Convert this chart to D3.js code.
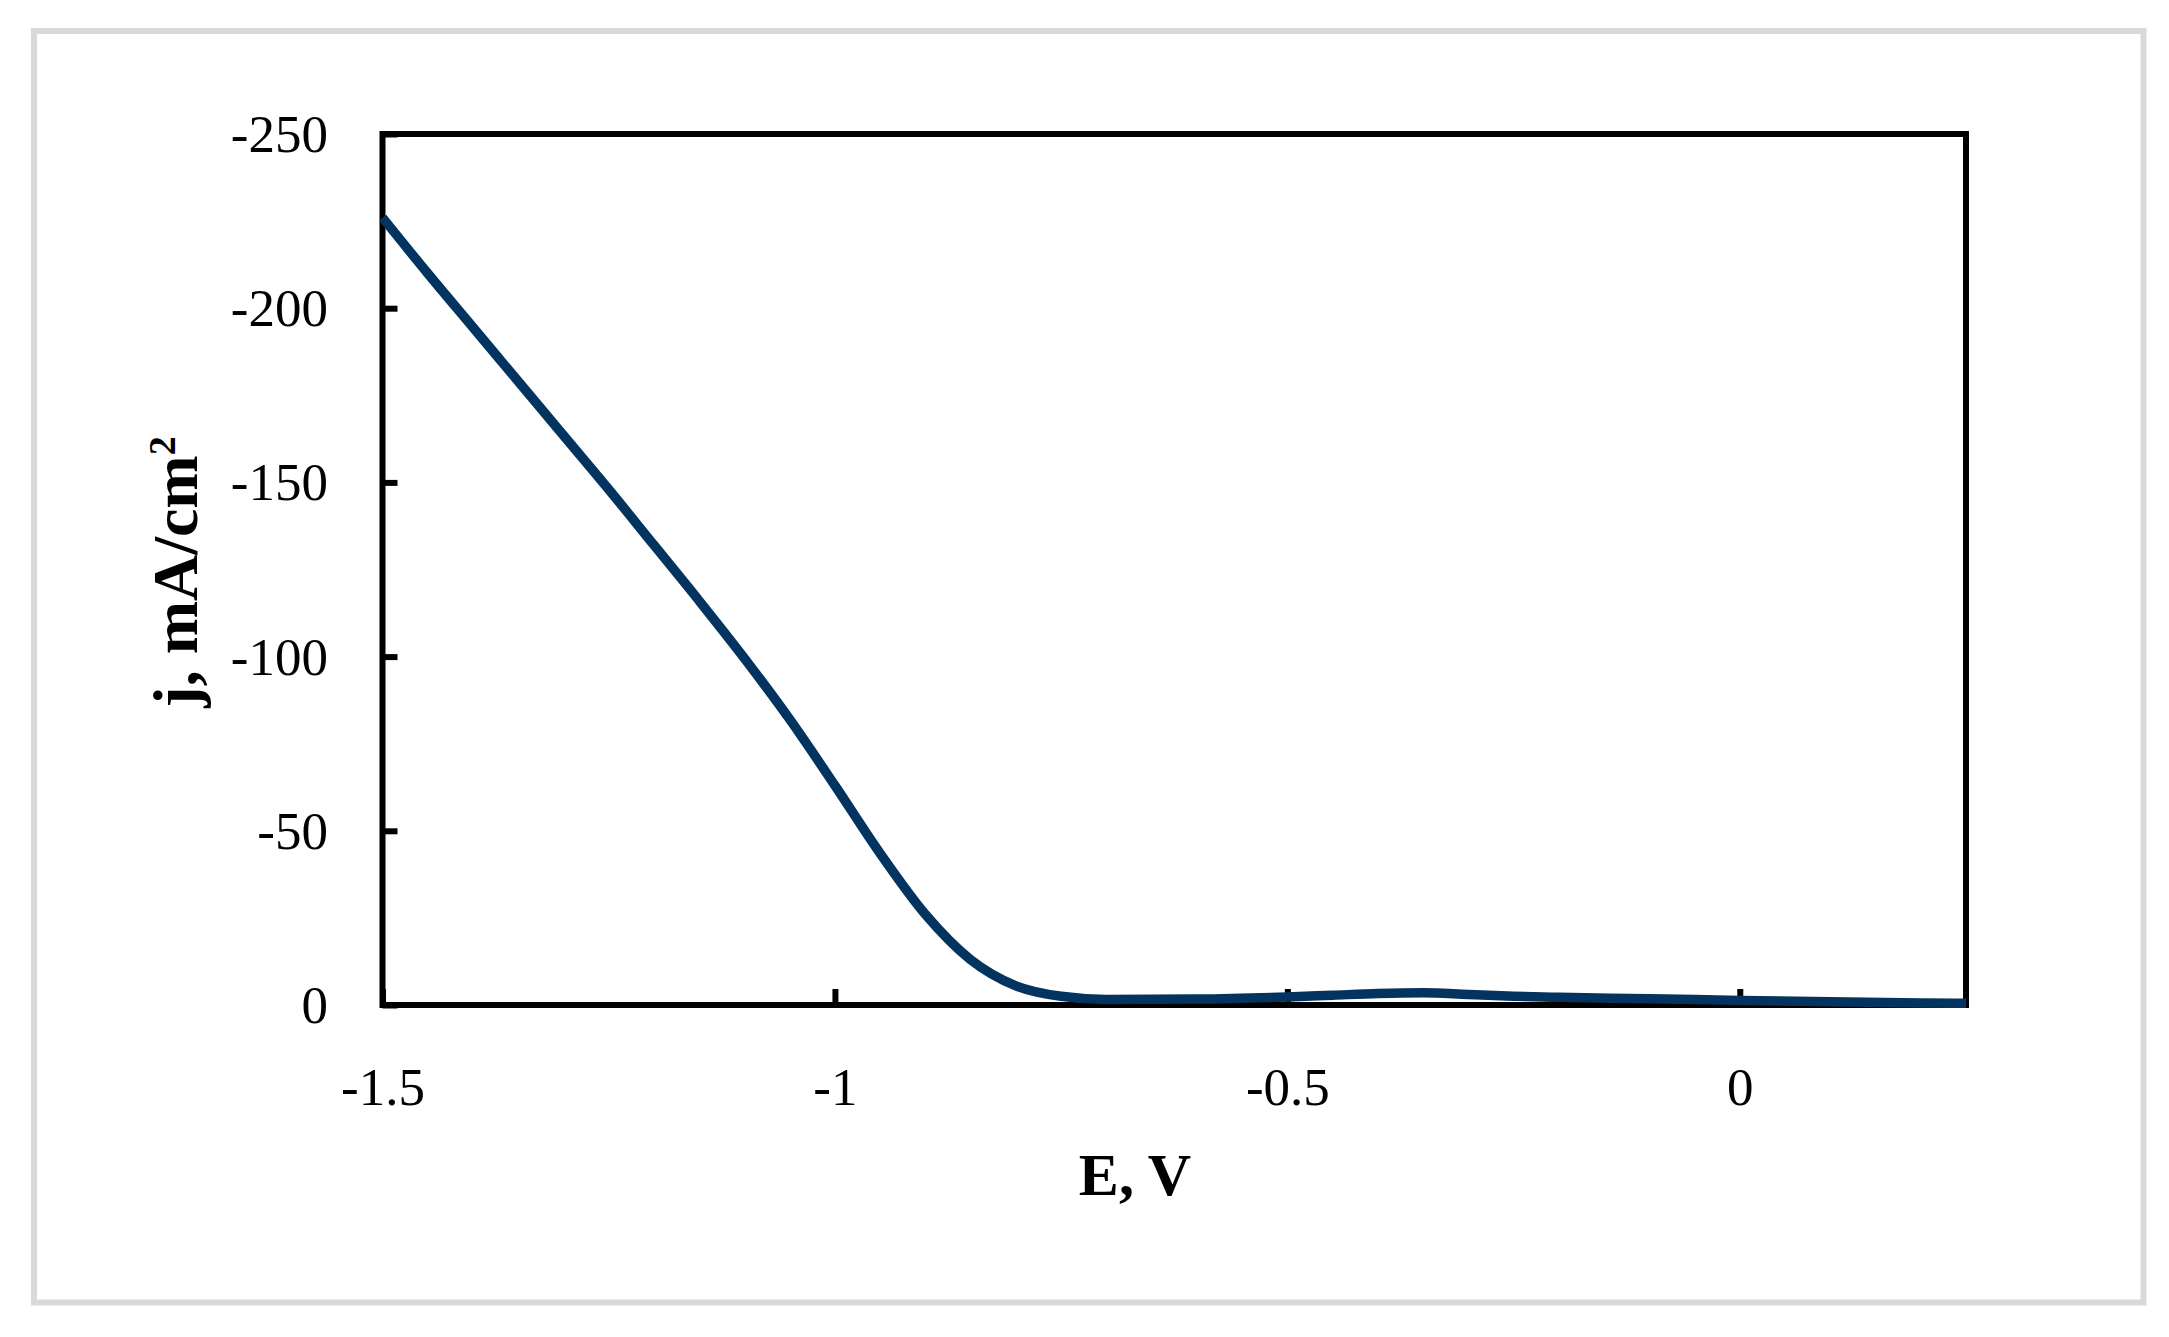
<!DOCTYPE html>
<html>
<head>
<meta charset="utf-8">
<script src="https://cdn.jsdelivr.net/npm/d3@7"></script>
<style>
  html, body { margin: 0; padding: 0; background: #ffffff; }
  svg { display: block; }
  text { font-family: "Liberation Serif", "Times New Roman", serif; fill: #000; }
</style>
</head>
<body>
<svg id="chart" width="2169" height="1337"></svg>
<script>
// ---- data ----
const potentials = [-1.50, -1.45, -1.40, -1.35, -1.30, -1.25, -1.20, -1.15, -1.10, -1.05,
                    -1.00, -0.95, -0.90, -0.85, -0.80, -0.75, -0.70, -0.60, -0.50, -0.45,
                    -0.40, -0.35, -0.30, -0.25, -0.20, -0.10, 0.00, 0.10, 0.20, 0.25];
const currents   = [-226, -210, -194.5, -179, -163.5, -148, -132, -116, -99.5, -82,
                    -63, -43.5, -26, -13, -5.5, -2.5, -1.6, -1.7, -2.3, -2.8,
                    -3.3, -3.5, -3.0, -2.5, -2.2, -1.8, -1.3, -0.9, -0.6, -0.5];
const xTickValues = [-1.5, -1, -0.5, 0];
const xTickLabels = ["-1.5", "-1", "-0.5", "0"];
const yTickValues = [-250, -200, -150, -100, -50, 0];
const yTickLabels = ["-250", "-200", "-150", "-100", "-50", "0"];
const xTitle = "E, V";
const yTitle = "j, mA/cm";
const yTitleSup = "2";

// ---- layout ----
const svg = d3.select("#chart");
const W = 2169, H = 1337;
const plot = { left: 382.5, right: 1966, top: 134, bottom: 1005 };

svg.append("rect").attr("x", 0).attr("y", 0).attr("width", W).attr("height", H).attr("fill", "#fff");

// outer light-grey frame
svg.append("rect")
  .attr("x", 34).attr("y", 31)
  .attr("width", 2143.5 - 34).attr("height", 1302.5 - 31)
  .attr("fill", "none").attr("stroke", "#d9d9d9").attr("stroke-width", 6);

const x = d3.scaleLinear().domain([-1.5, 0.25]).range([plot.left, plot.right]);
const y = d3.scaleLinear().domain([0, -250]).range([plot.bottom, plot.top]);

// plot box
svg.append("rect")
  .attr("x", plot.left).attr("y", plot.top)
  .attr("width", plot.right - plot.left).attr("height", plot.bottom - plot.top)
  .attr("fill", "none").attr("stroke", "#000").attr("stroke-width", 6);

// y axis
const yAxis = d3.axisLeft(y)
  .tickValues(yTickValues)
  .tickFormat((d, i) => yTickLabels[i])
  .tickSize(-15)
  .tickPadding(54.5);
const gy = svg.append("g").attr("transform", `translate(${plot.left},0)`).call(yAxis);
gy.select(".domain").remove();
gy.selectAll(".tick line").attr("stroke", "#000").attr("stroke-width", 6);
gy.selectAll(".tick text").attr("font-size", 53).attr("dy", "0.33em")
  .style("font-family", '"Liberation Serif", "Times New Roman", serif');

// x axis
const xAxis = d3.axisBottom(x)
  .tickValues(xTickValues)
  .tickFormat((d, i) => xTickLabels[i])
  .tickSize(-16)
  .tickPadding(0);
const gx = svg.append("g").attr("transform", `translate(0,${plot.bottom})`).call(xAxis);
gx.select(".domain").remove();
gx.selectAll(".tick line").attr("stroke", "#000").attr("stroke-width", 6);
gx.selectAll(".tick text").attr("font-size", 53).attr("y", 100).attr("dy", 0)
  .style("font-family", '"Liberation Serif", "Times New Roman", serif');

// clip for the curve
svg.append("clipPath").attr("id", "plotclip")
  .append("rect")
  .attr("x", plot.left - 3).attr("y", plot.top - 3)
  .attr("width", plot.right - plot.left + 6).attr("height", plot.bottom - plot.top + 6);

// curve
const data = potentials.map((e, i) => ({ e, j: currents[i] }));
const line = d3.line().x(d => x(d.e)).y(d => y(d.j)).curve(d3.curveMonotoneX);
svg.append("path")
  .datum(data)
  .attr("clip-path", "url(#plotclip)")
  .attr("d", line)
  .attr("fill", "none")
  .attr("stroke", "#02345f")
  .attr("stroke-width", 9.5)
  .attr("stroke-linejoin", "round");

// axis titles
svg.append("text")
  .attr("x", 1135).attr("y", 1195)
  .attr("text-anchor", "middle")
  .attr("font-size", 60).attr("font-weight", "bold")
  .text(xTitle);

const yt = svg.append("text")
  .attr("transform", "translate(197,572) rotate(-90)")
  .attr("text-anchor", "middle")
  .attr("font-size", 64).attr("font-weight", "bold");
yt.append("tspan").text(yTitle);
yt.append("tspan").attr("font-size", 38).attr("dy", -22).text(yTitleSup);
</script>
</body>
</html>
